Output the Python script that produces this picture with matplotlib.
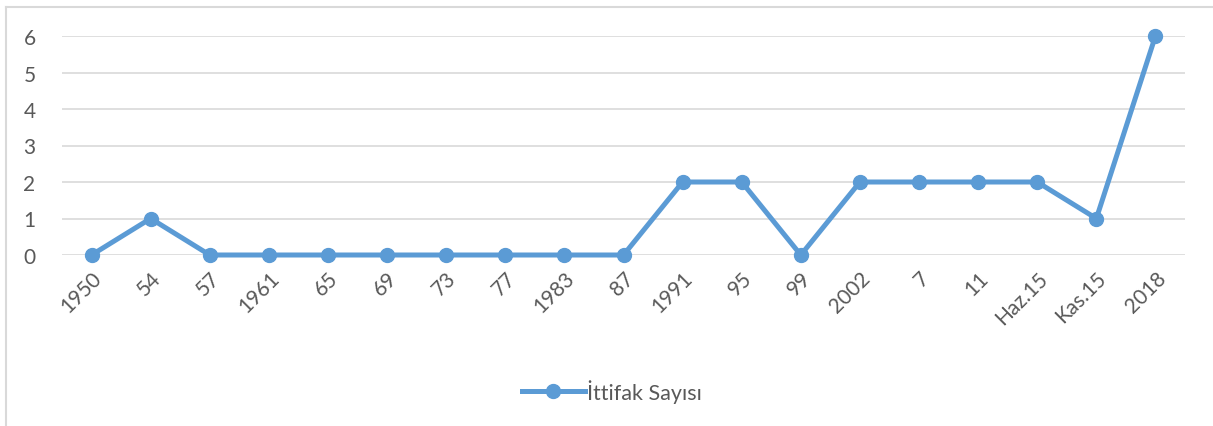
import matplotlib
matplotlib.use("Agg")
import matplotlib.pyplot as plt
from matplotlib.lines import Line2D

categories = ["1950", "54", "57", "1961", "65", "69", "73", "77", "1983", "87",
              "1991", "95", "99", "2002", "7", "11", "Haz.15", "Kas.15", "2018"]
values = [0, 1, 0, 0, 0, 0, 0, 0, 0, 0, 2, 2, 0, 2, 2, 2, 2, 1, 6]
series_name = "İttifak Sayısı"

plt.rcParams['font.family'] = ['Lato', 'DejaVu Sans']

W, H = 1213, 427
fig = plt.figure(figsize=(W / 100, H / 100), dpi=100)
fig.patch.set_facecolor('white')

# chart border (top and left visible)
fig.add_artist(Line2D([6 / W, 6 / W], [0, 1 - 8 / H], transform=fig.transFigure,
                      color='#d9d9d9', lw=1.5))
fig.add_artist(Line2D([6 / W, 1], [1 - 8 / H, 1 - 8 / H], transform=fig.transFigure,
                      color='#d9d9d9', lw=1.5))

ax = fig.add_axes([62 / W, 1 - 256 / H, (1185 - 62) / W, (256 - 37) / H])
x = list(range(len(categories)))
color = '#5B9BD5'
ax.plot(x, values, color=color, lw=3.6, marker='o', markersize=10,
        solid_joinstyle='round', solid_capstyle='round', label=series_name,
        zorder=3, clip_on=False)

ax.set_xlim(-0.5, len(categories) - 0.5)
ax.set_ylim(0, 6)
ax.set_yticks(range(0, 7))
ax.set_xticks(x)
ax.set_xticklabels(categories, rotation=45, ha='right', rotation_mode='anchor',
                   fontsize=15, color='#595959')
ax.tick_params(axis='x', length=0, pad=9)
ax.tick_params(axis='y', length=0, pad=19, labelsize=15, labelcolor='#595959')

ax.grid(axis='y', color='#d9d9d9', lw=1.2)
ax.set_axisbelow(True)
for s in ax.spines.values():
    s.set_visible(False)

leg = fig.legend(handles=[Line2D([0], [0], color=color, lw=3.6, marker='o', markersize=10)],
                 labels=[series_name], loc='center', bbox_to_anchor=(612 / W, 1 - 392 / H),
                 frameon=False, fontsize=15.5, handlelength=2.9, handletextpad=0.1)
for t in leg.get_texts():
    t.set_color('#595959')

fig.savefig('out.png', dpi=100, facecolor='white')
